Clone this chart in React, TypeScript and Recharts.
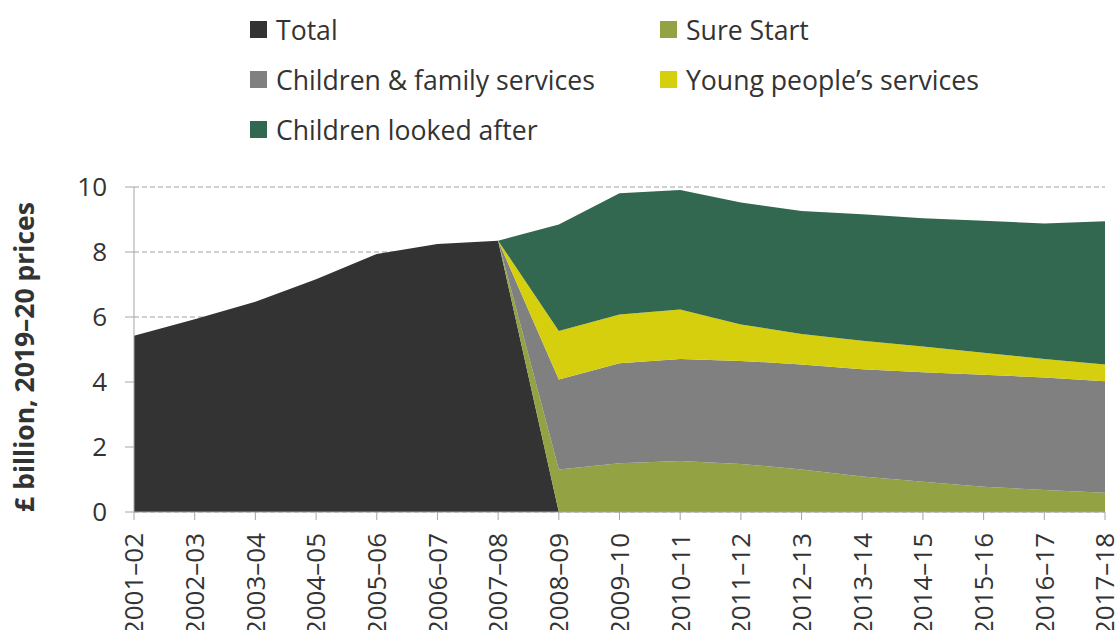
import React from "react";
import {
  AreaChart,
  Area,
  XAxis,
  YAxis,
  CartesianGrid,
} from "recharts";

const years = [
  "2001–02", "2002–03", "2003–04", "2004–05", "2005–06", "2006–07", "2007–08",
  "2008–09", "2009–10", "2010–11", "2011–12", "2012–13", "2013–14", "2014–15",
  "2015–16", "2016–17", "2017–18",
];

const total = [5.42, 5.93, 6.47, 7.16, 7.94, 8.25, 8.35, 0, 0, 0, 0, 0, 0, 0, 0, 0, 0];
const sureStart = [0, 0, 0, 0, 0, 0, 0, 1.31, 1.5, 1.57, 1.48, 1.31, 1.09, 0.93, 0.78, 0.68, 0.59];
const familyServices = [0, 0, 0, 0, 0, 0, 0, 2.77, 3.08, 3.14, 3.17, 3.23, 3.3, 3.37, 3.44, 3.46, 3.43];
const youngPeople = [0, 0, 0, 0, 0, 0, 0, 1.49, 1.5, 1.52, 1.12, 0.94, 0.88, 0.79, 0.68, 0.57, 0.52];
const lookedAfter = [0, 0, 0, 0, 0, 0, 0, 3.28, 3.73, 3.68, 3.75, 3.78, 3.89, 3.95, 4.06, 4.17, 4.41];

const yTicks = [0, 2, 4, 6, 8, 10];

const data = years.map((year, i) => ({
  year,
  total: total[i],
  sureStart: sureStart[i],
  familyServices: familyServices[i],
  youngPeople: youngPeople[i],
  lookedAfter: lookedAfter[i],
}));

const FONT = "'Open Sans', 'Noto Sans', sans-serif";
const TEXT = "#333333";
const AXIS = "#a6a6a6";

const series = [
  { key: "total", name: "Total", color: "#333333" },
  { key: "sureStart", name: "Sure Start", color: "#93a343" },
  { key: "familyServices", name: "Children & family services", color: "#808080" },
  { key: "youngPeople", name: "Young people’s services", color: "#d5cf0e" },
  { key: "lookedAfter", name: "Children looked after", color: "#336850" },
];

// legend slots: [left, centre y]
const legendPos: Record<string, [number, number]> = {
  total: [250, 29.5],
  sureStart: [660, 29.5],
  familyServices: [250, 79.5],
  youngPeople: [660, 79.5],
  lookedAfter: [250, 129.5],
};

const XTick = (props: any) => {
  const { x, y, payload } = props;
  return (
    <text
      x={x}
      y={y}
      transform={`rotate(-90 ${x} ${y})`}
      textAnchor="end"
      dy="0.36em"
      fill={TEXT}
      fontSize={26}
      fontFamily={FONT}
    >
      {payload.value}
    </text>
  );
};

const YLabel = () => (
  <text
    x={24}
    y={357}
    transform="rotate(-90 24 357)"
    textAnchor="middle"
    dominantBaseline="central"
    fill={TEXT}
    fontSize={26.5}
    fontWeight="bold"
    fontFamily={FONT}
  >
    £ billion, 2019–20 prices
  </text>
);

export default function App() {
  return (
    <div style={{ position: "relative", width: 1117, height: 630, background: "#fff", fontFamily: FONT, overflow: "hidden" }}>
      <style>{`body{margin:0}`}</style>
      {series.map((s) => {
        const [left, cy] = legendPos[s.key];
        return (
          <div
            key={s.key}
            style={{
              position: "absolute",
              left,
              top: cy - 18,
              height: 36,
              display: "flex",
              alignItems: "center",
              whiteSpace: "nowrap",
              fontSize: 26.6,
              color: TEXT,
            }}
          >
            <span style={{ display: "inline-block", width: 17, height: 17, background: s.color, marginRight: 9 }} />
            {s.name}
          </div>
        );
      })}
      <div style={{ position: "absolute", left: 0, top: 0 }}>
        <AreaChart
          width={1117}
          height={630}
          data={data}
          margin={{ top: 187, right: 12, left: 0, bottom: 0 }}
        >
          <CartesianGrid vertical={false} stroke="#a0a0a0" strokeDasharray="5 3" />
          <XAxis
            dataKey="year"
            interval={0}
            height={118}
            tick={<XTick />}
            tickSize={8}
            tickMargin={13}
            axisLine={{ stroke: AXIS }}
            tickLine={{ stroke: AXIS }}
          />
          <YAxis
            domain={[0, 10]}
            ticks={yTicks}
            width={134}
            tickSize={9}
            tickMargin={18}
            axisLine={{ stroke: AXIS }}
            tickLine={{ stroke: AXIS }}
            tick={{ fill: TEXT, fontSize: 26, fontFamily: FONT }}
            label={{ content: <YLabel /> }}
          />
          {series.map((s) => (
            <Area
              key={s.key}
              type="linear"
              dataKey={s.key}
              name={s.name}
              stackId="a"
              fill={s.color}
              fillOpacity={1}
              stroke="none"
              isAnimationActive={false}
            />
          ))}
        </AreaChart>
      </div>
    </div>
  );
}
